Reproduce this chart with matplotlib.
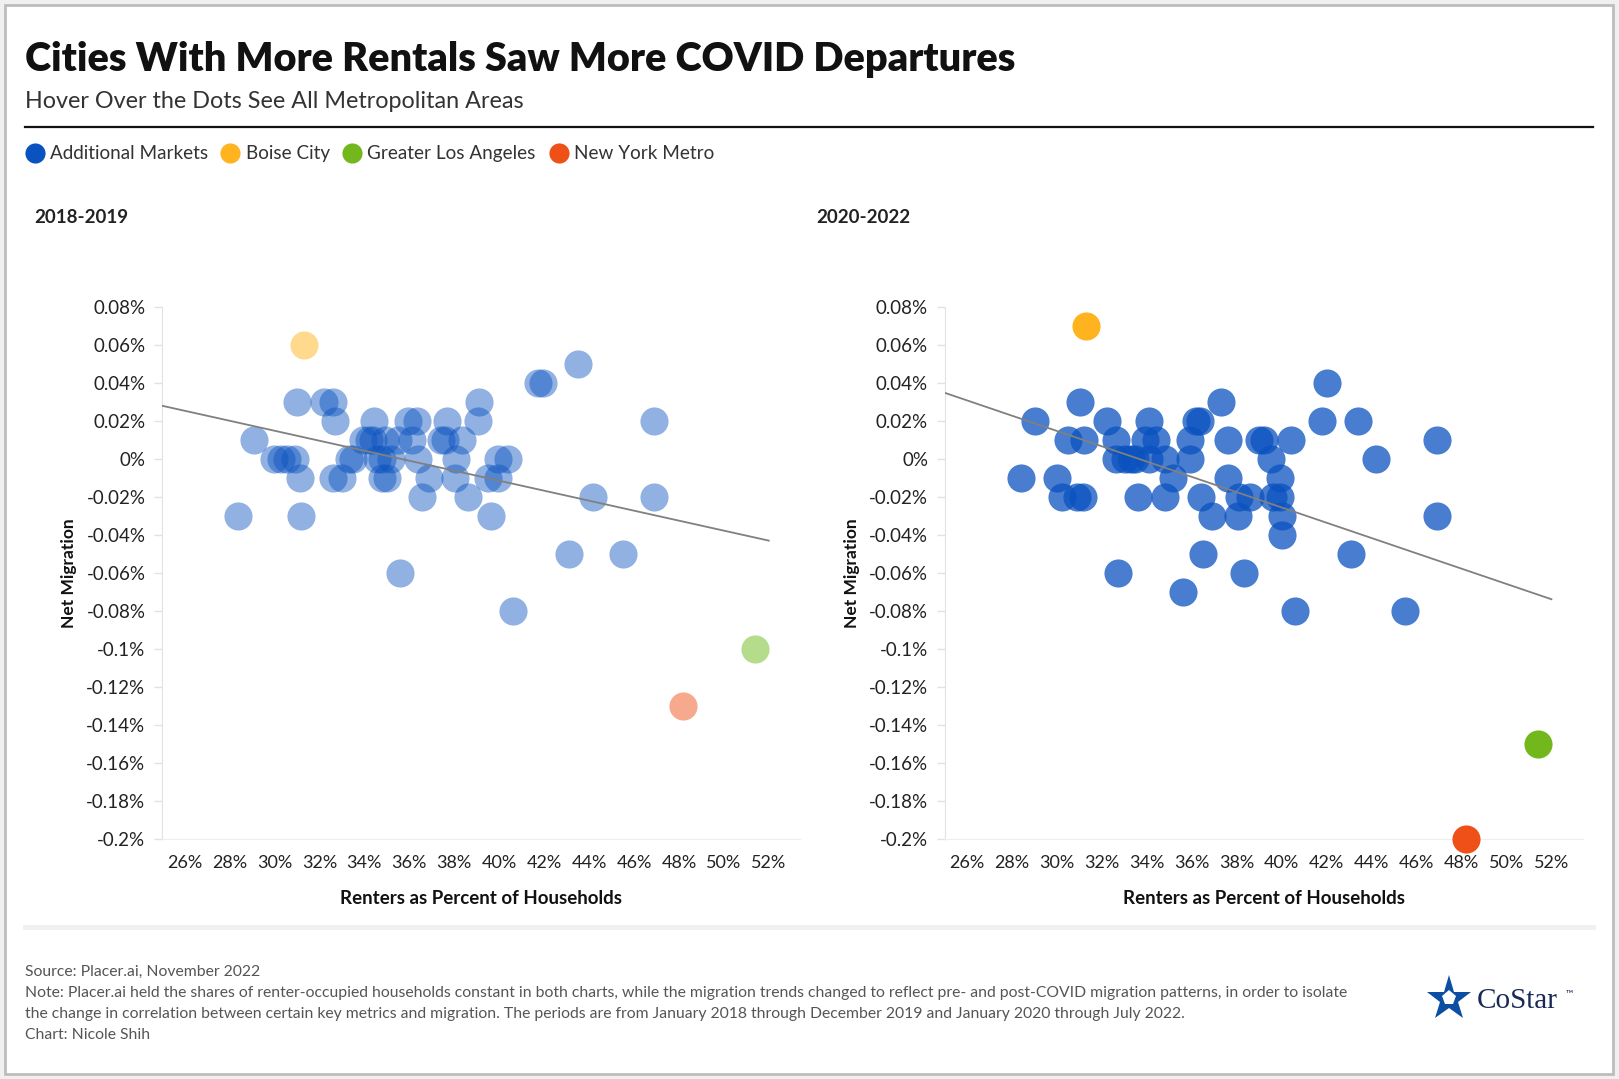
import matplotlib.pyplot as plt
import numpy as np
from matplotlib.lines import Line2D
from matplotlib.patches import Rectangle

plt.rcParams['font.family'] = ['Lato', 'DejaVu Sans']

# --- data (renter share %, net migration %) ---
renters_1819 = [28.4, 29.1, 30.0, 30.3, 30.55, 30.9, 31.0, 31.15, 31.2, 32.2,
                32.6, 32.7, 32.6, 33.0, 33.3, 33.5, 33.95, 34.2, 34.4, 34.45,
                34.55, 34.8, 34.8, 35.0, 35.2, 34.9, 35.6, 35.95, 36.35, 36.1,
                36.4, 36.55, 36.9, 37.4, 37.7, 38.35, 38.1, 38.05, 38.6, 39.1,
                39.05, 39.5, 39.65, 39.95, 39.95, 40.4, 40.6, 41.75, 41.95, 43.1,
                43.5, 44.2, 45.5, 46.9, 46.9, 35.5, 37.6]
migr_1819 = [-0.03, 0.01, 0, 0, 0, 0, 0.03, -0.01, -0.03, 0.03,
             0.03, 0.02, -0.01, -0.01, 0, 0, 0.01, 0.01, 0.01, 0.02,
             0, 0, -0.01, -0.01, 0, 0.01, -0.06, 0.02, 0.02, 0.01,
             0, -0.02, -0.01, 0.01, 0.02, 0.01, 0, -0.01, -0.02, 0.03,
             0.02, -0.01, -0.03, 0, -0.01, 0, -0.08, 0.04, 0.04, -0.05,
             0.05, -0.02, -0.05, 0.02, -0.02, 0.01, 0.01]

renters_2022 = [28.4, 29.0, 30.0, 30.2, 30.5, 30.9, 31.0, 31.15, 31.2, 32.2,
                32.6, 32.6, 32.7, 33.0, 33.3, 33.6, 33.9, 34.1, 34.1, 34.4,
                34.8, 34.8, 35.15, 35.6, 35.9, 35.9, 36.2, 36.35, 36.4, 36.5,
                36.9, 37.3, 37.6, 37.6, 38.1, 38.05, 38.3, 38.6, 39.0, 39.2,
                39.5, 39.6, 39.9, 39.9, 40.0, 40.0, 40.4, 40.6, 41.8, 42.0,
                43.1, 43.4, 44.2, 45.5, 46.9, 46.9, 33.45]
migr_2022 = [-0.01, 0.02, -0.01, -0.02, 0.01, -0.02, 0.03, -0.02, 0.01, 0.02,
             0.01, 0, -0.06, 0, 0, -0.02, 0.01, 0.02, 0, 0.01,
             -0.02, 0, -0.01, -0.07, 0.01, 0, 0.02, 0.02, -0.02, -0.05,
             -0.03, 0.03, 0.01, -0.01, -0.02, -0.03, -0.06, -0.02, 0.01, 0.01,
             0, -0.02, -0.02, -0.01, -0.03, -0.04, 0.01, -0.08, 0.02, 0.04,
             -0.05, 0.02, 0, -0.08, 0.01, -0.03, 0]

highlight_names = ['Boise City', 'Greater Los Angeles', 'New York Metro']
highlight_renters = [31.3, 51.4, 48.2]
highlight_1819 = [0.06, -0.10, -0.13]
highlight_2022 = [0.07, -0.15, -0.20]

legend_names = ['Additional Markets', 'Boise City', 'Greater Los Angeles', 'New York Metro']
legend_colors = ['#0a52bf', '#ffb41f', '#72b81c', '#ee5018']
faded_colors = {'Boise City': '#ffd98e', 'Greater Los Angeles': '#b5dc8a', 'New York Metro': '#f6a98c'}

xticks = list(range(26, 53, 2))
yticks = [0.08, 0.06, 0.04, 0.02, 0, -0.02, -0.04, -0.06, -0.08, -0.1,
          -0.12, -0.14, -0.16, -0.18, -0.2]

W, H = 1568.0, 1045.0   # layout measured in this pixel frame


def fx(x):
    return x / W


def fy(y):
    return 1 - y / H


def ylab(v):
    s = ('%.2f' % v).rstrip('0').rstrip('.')
    if s == '-0':
        s = '0'
    return s + '%'


fig = plt.figure(figsize=(16.19, 10.79), dpi=100, facecolor='#f0f0f0')
fig.patches.append(Rectangle((fx(5), fy(1040)), fx(1557), 1035 / H, transform=fig.transFigure,
                             facecolor='white', edgecolor='#bdbdbd', lw=2, zorder=-10))

fig.text(fx(24), fy(58), 'Cities With More Rentals Saw More COVID Departures',
         fontsize=28.5, fontweight='heavy', va='center', color='#111111')
fig.text(fx(24), fy(98), 'Hover Over the Dots See All Metropolitan Areas',
         fontsize=16.8, va='center', color='#333333')
fig.add_artist(Line2D([fx(24), fx(1543)], [fy(123), fy(123)], color='#111111', lw=1.6))

handles = [Line2D([], [], marker='o', ls='', markersize=14.5, color=c, markeredgewidth=0)
           for c in legend_colors]
fig.legend(handles, legend_names, loc='center left', bbox_to_anchor=(fx(17), fy(149)),
           ncol=4, frameon=False, fontsize=13.6, handletextpad=0.3, columnspacing=0.7,
           handlelength=1.0, borderaxespad=0, labelcolor='#333333')

panels = [
    ('2018-2019', renters_1819, migr_1819, highlight_1819, 157, 0.45, True),
    ('2020-2022', renters_2022, migr_2022, highlight_2022, 915, 0.75, False),
]

for title, xs, ys, hy, left, alpha, faded in panels:
    ax = fig.add_axes([fx(left), fy(813), 618 / W, 516 / H])
    ax.scatter(xs, ys, s=410, color=legend_colors[0], alpha=alpha, linewidths=0, zorder=3)
    for name, hx, hv in zip(highlight_names, highlight_renters, hy):
        col = faded_colors[name] if faded else legend_colors[legend_names.index(name)]
        ax.scatter([hx], [hv], s=410, color=col, linewidths=0, zorder=4, clip_on=False)

    allx = np.array(xs + highlight_renters)
    ally = np.array(ys + hy)
    k, b = np.polyfit(allx, ally, 1)
    lx = np.array([25.0, 52.0])
    ax.plot(lx, k * lx + b, color='#808080', lw=1.3, zorder=5)

    ax.set_xlim(25.0, 53.4)
    ax.set_ylim(-0.2, 0.08)
    ax.set_xticks(xticks)
    ax.set_xticklabels(['%d%%' % t for t in xticks])
    ax.set_yticks(yticks)
    ax.set_yticklabels([ylab(t) for t in yticks])
    ax.tick_params(axis='x', length=0, pad=11, labelsize=13, labelcolor='#222222')
    ax.tick_params(axis='y', length=6, width=1, color='#e2e2e2', pad=6,
                   labelsize=13.5, labelcolor='#222222')
    for sp in ['top', 'right']:
        ax.spines[sp].set_visible(False)
    ax.spines['left'].set_color('#e2e2e2')
    ax.spines['bottom'].set_color('#eeeeee')
    ax.set_xlabel('Renters as Percent of Households', fontsize=13.5, fontweight='bold',
                  color='#111111', labelpad=14)
    ax.set_ylabel('Net Migration', fontsize=12.5, fontweight='bold', color='#111111')
    ax.yaxis.set_label_coords(-82 / 618, 0.5)
    fig.text(fx(left - 124), fy(211), title, fontsize=13.5, fontweight='bold',
             va='center', color='#222222')

fig.add_artist(Line2D([fx(24), fx(1543)], [fy(898), fy(898)], color='#f0f0f0', lw=3.5))

notes = ['Source: Placer.ai, November 2022',
         'Note: Placer.ai held the shares of renter-occupied households constant in both charts, '
         'while the migration trends changed to reflect pre- and post-COVID migration patterns, in order to isolate',
         'the change in correlation between certain key metrics and migration. The periods are from '
         'January 2018 through December 2019 and January 2020 through July 2022.',
         'Chart: Nicole Shih']
for i, line in enumerate(notes):
    fig.text(fx(24), fy(941 + 20.5 * i), line, fontsize=11.3, va='center', color='#555555')

# CoStar logo
fig.add_artist(Line2D([fx(1403)], [fy(968)], marker='*', markersize=34, color='#0b4ea2',
                      markeredgewidth=0))
fig.add_artist(Line2D([fx(1403)], [fy(967)], marker='p', markersize=11, color='white',
                      markeredgewidth=0))
fig.text(fx(1430), fy(969), 'CoStar', fontsize=21, family='Liberation Serif',
         va='center', color='#1b2a55')
fig.text(fx(1516), fy(962), '\u2122', fontsize=7, va='center', color='#1b2a55')

fig.savefig('out.png', dpi=100, facecolor=fig.get_facecolor())
